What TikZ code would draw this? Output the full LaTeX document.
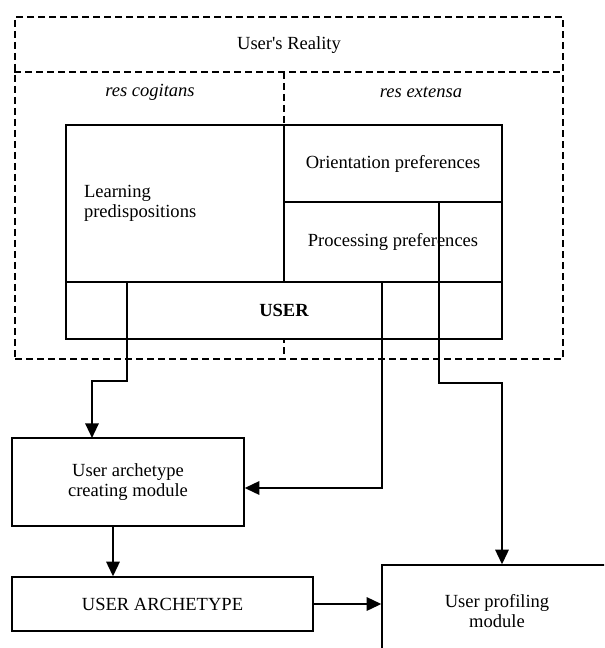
\documentclass[tikz,border=0pt]{standalone}
\usepackage{fontspec}
\setmainfont{Liberation Serif}
\usetikzlibrary{arrows.meta}
\usetikzlibrary{calc}
\tikzset{
    frame/.style={draw, rectangle, dash pattern=on 5.25pt off 3pt, line width=1pt},
    part/.style={draw, rectangle, fill=white, line width=1pt, inner sep=0pt},
    module/.style={part, align=center},
    flow/.style={line width=1.6pt, -{Triangle[length=11pt,width=10pt]}}
}

\begin{document}
\begin{tikzpicture}[x=0.75pt, y=-0.75pt, font=\fontsize{13.9}{15.5}\selectfont]
      \useasboundingbox (0,0) rectangle (604,648);
      \clip (0,0) rectangle (604,648);

      % the user's reality, split in two
      \node[frame, minimum width=411pt, minimum height=256.5pt] (reality) at (289,188) {};
      \coordinate (split) at (284,72);
      \draw[frame] (split -| reality.west) -- (split -| reality.east);
      \draw[frame] (split) -- (split |- reality.south);
      \node (reality-label) at (289,45) {User\textquotesingle s Reality};
      \node (cogitans) at (150,92) {\itshape res cogitans};
      \node (extensa) at (421,92) {\itshape res extensa};

      % the user
      \node[part, minimum width=163.5pt, minimum height=117.75pt, text width=136.5pt, inner xsep=13.5pt, align=left] (learn) at (175,203.5) {Learning\\predispositions};
      \node[part, minimum width=163.5pt, minimum height=57.75pt] (orient) at (393,163.5) {Orientation preferences};
      \node[part, minimum width=163.5pt, minimum height=60pt] (process) at (393,242) {Processing preferences};
      \node[part, minimum width=327pt, minimum height=42.75pt] (user) at (284,310.5) {\bfseries USER};

      % modules
      \node[module, minimum width=174pt, minimum height=66pt] (creating) at (128,482) {User archetype\\creating module};
      \node[module, minimum width=225.75pt, minimum height=40.5pt] (archetype) at (162.5,604) {USER ARCHETYPE};
      \node[module, minimum width=172.5pt, minimum height=69pt] (profiling) at (497,611) {User profiling\\module};

      \coordinate (learn-tap) at (127,282);
      \coordinate (process-tap) at (382,282);
      \coordinate (orient-tap) at (439,202);
      \coordinate (creating-in) at (92,438);

      \draw[flow] (learn-tap) -- ++(0,99) -| (creating-in);
      \draw[flow] (process-tap) |- ($(creating.east)+(0,6)$);
      \draw[flow] (orient-tap) -- ++(0,181) -| ([xshift=3.75pt]profiling.north);
      \draw[flow] ([xshift=-11.25pt]creating.south) -- ([xshift=-11.25pt]creating.south |- archetype.north);
      \draw[flow] (archetype.east) -- (archetype.east -| profiling.west);
\end{tikzpicture}
\end{document}
